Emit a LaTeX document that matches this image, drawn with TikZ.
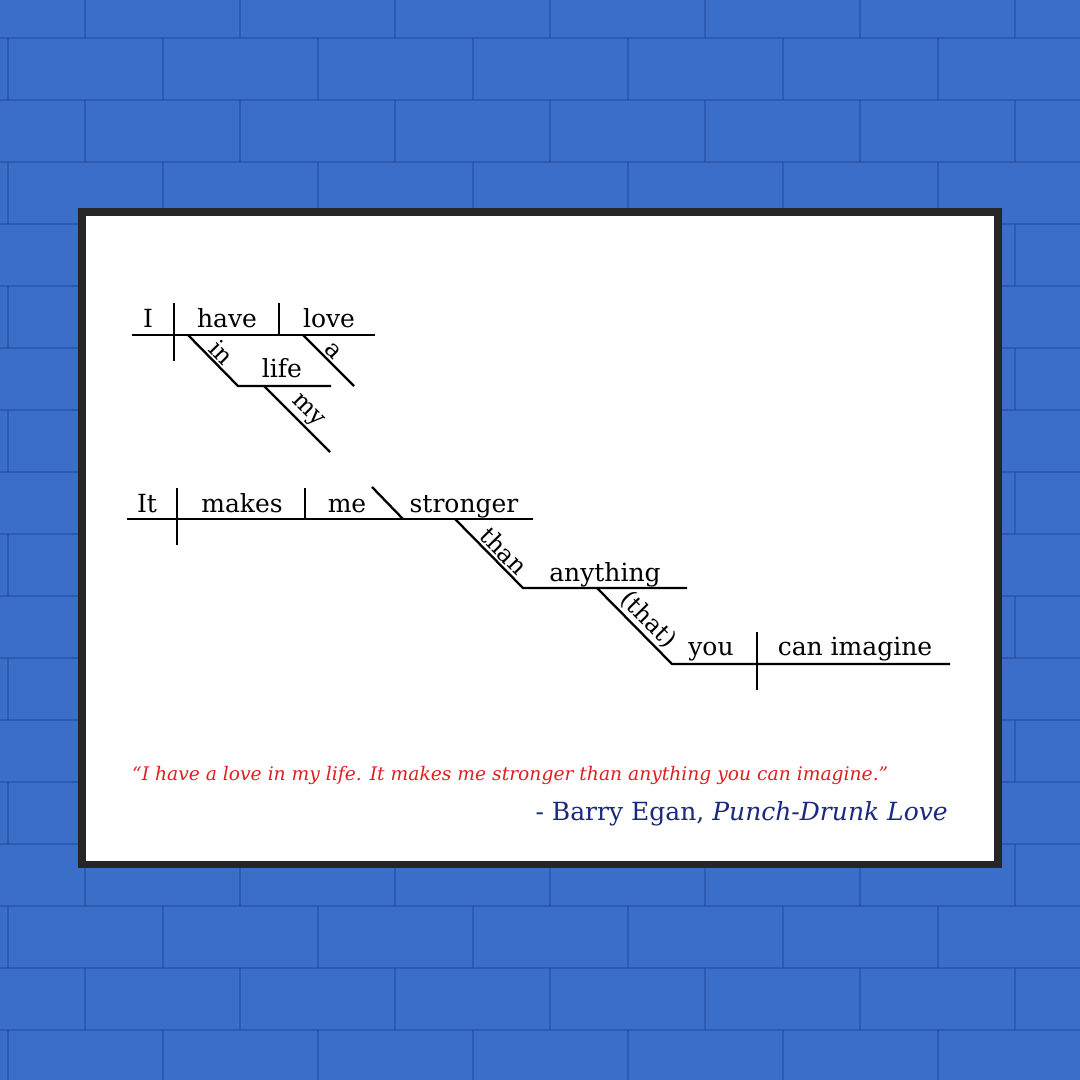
\documentclass[tikz,border=0pt]{standalone}
\usepackage{fontspec}
\setmainfont{DejaVu Serif}
\usetikzlibrary{calc, positioning}
\definecolor{wall}{RGB}{58,110,200}
\definecolor{mortar}{RGB}{28,62,138}
\definecolor{framegray}{RGB}{38,38,38}
\definecolor{quotered}{RGB}{222,32,32}
\definecolor{navy}{RGB}{26,40,128}
\tikzstyle{brick} = [mortar, line width=2pt, opacity=0.4]
\tikzstyle{word} = [anchor=base, inner sep=0pt, font=\fontsize{25}{29}\selectfont]
\tikzstyle{slant} = [sloped, above, inner sep=2pt, font=\fontsize{24}{28}\selectfont]
\tikzstyle{rule} = [line width=2.3pt, black]

\begin{document}
\begin{tikzpicture}[x=1pt, y=-1pt]
	\useasboundingbox (0,0) rectangle (1080,1080);
	% wall
	\fill[wall] (0,0) rectangle (1080,1080);
	\foreach \r in {0,...,17} {
		\pgfmathsetmacro{\yy}{38+62*(\r-1)}
		\pgfmathsetmacro{\off}{mod(\r,2)*78}
		\draw[brick] (0,\yy) -- (1080,\yy);
		\foreach \c in {0,...,7}
			\draw[brick] ({\off+155*\c-70},\yy) -- ++(0,62);
	}
	% frame
	\fill[framegray] (78,208) rectangle (1002,868);
	\fill[white] (86,216) rectangle (994,861);

	% first sentence
	\coordinate (base1l) at (132,335);
	\coordinate (base1r) at (375,335);
	\coordinate (div1t) at (174,303);
	\coordinate (div1b) at (174,361);
	\coordinate (div2t) at (279,303);
	\coordinate (div2b) at (279,335);
	\coordinate (in1) at (188,335);
	\coordinate (in2) at (238,386);
	\coordinate (life2) at (331,386);
	\coordinate (a1) at (303,335);
	\coordinate (a2) at (354,386);
	\coordinate (my1) at (264,386);
	\coordinate (my2) at (330,452);
	\node[word] (I) at (148,327) {I};
	\node[word] (have) at (227,327) {have};
	\node[word] (love) at (329,327) {love};
	\node[word] (life) at (282,377) {life};
	\draw[rule] (base1l) -- (base1r);
	\draw[rule] (div1t) -- (div1b);
	\draw[rule] (div2t) -- (div2b);
	\draw[rule] (in1) -- node[slant, pos=0.5] {in} (in2) -- (life2);
	\draw[rule] (a1) -- node[slant, pos=0.46] {a} (a2);
	\draw[rule] (my1) -- node[slant, pos=0.52] {my} (my2);

	% second sentence
	\coordinate (base2l) at (127,519);
	\coordinate (base2r) at (533,519);
	\coordinate (div3t) at (177,488);
	\coordinate (div3b) at (177,545);
	\coordinate (div4t) at (305,488);
	\coordinate (div4b) at (305,519);
	\coordinate (comp1) at (372,487);
	\coordinate (comp2) at (403,519);
	\coordinate (than1) at (455,519);
	\coordinate (than2) at (523,588);
	\coordinate (any2) at (687,588);
	\coordinate (that1) at (597,588);
	\coordinate (that2) at (672,664);
	\coordinate (you2) at (950,664);
	\coordinate (div5t) at (757,632);
	\coordinate (div5b) at (757,690);
	\node[word] (It) at (147,512) {It};
	\node[word] (makes) at (242,512) {makes};
	\node[word] (me) at (347,512) {me};
	\node[word] (stronger) at (464,512) {stronger};
	\node[word] (anything) at (605,581) {anything};
	\node[word] (you) at (711,655) {you};
	\node[word] (imagine) at (855,655) {can imagine};
	\draw[rule] (base2l) -- (base2r);
	\draw[rule] (div3t) -- (div3b);
	\draw[rule] (div4t) -- (div4b);
	\draw[rule] (comp1) -- (comp2);
	\draw[rule] (than1) -- node[slant, pos=0.59] {than} (than2) -- (any2);
	\draw[rule] (that1) -- node[slant, pos=0.55] {(that)} (that2) -- (you2);
	\draw[rule] (div5t) -- (div5b);

	% quote
	\node[anchor=base west, inner sep=0pt, quotered, font=\fontsize{18.7}{22}\selectfont\itshape] (quote) at (132,780)
		{“I have a love in my life. It makes me stronger than anything you can imagine.”};
	\node[anchor=base east, inner sep=0pt, navy, font=\fontsize{25}{29}\selectfont] (credit) at (948,820)
		{- Barry Egan, \textit{Punch-Drunk Love}};
\end{tikzpicture}
\end{document}
